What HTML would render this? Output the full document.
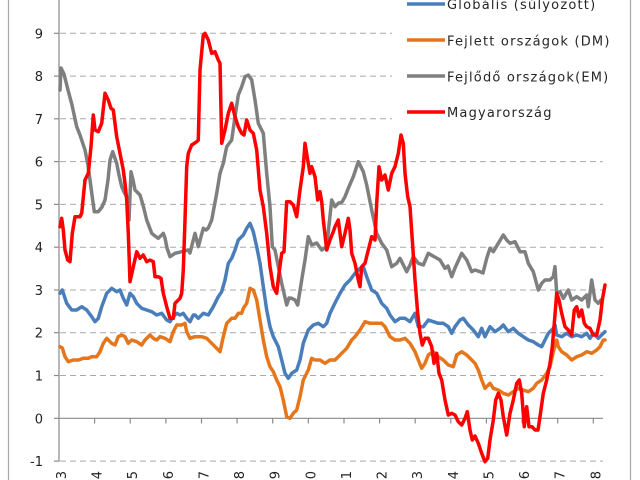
<!DOCTYPE html>
<html>
<head>
<meta charset="utf-8">
<style>
html,body{margin:0;padding:0;background:#fff;}
svg{display:block;}
.yl{font-family:"DejaVu Sans","Liberation Sans",sans-serif;font-size:13px;fill:#222;}
.lg{font-family:"DejaVu Sans","Liberation Sans",sans-serif;font-size:13px;fill:#262626;letter-spacing:1.2px;}
</style>
</head>
<body>
<svg width="640" height="480" viewBox="0 0 640 480" xmlns="http://www.w3.org/2000/svg">
<rect x="0" y="0" width="640" height="480" fill="#fff"/>
<!-- outer borders -->
<line x1="8.5" y1="0" x2="8.5" y2="480" stroke="#a8a8a8" stroke-width="1.2"/>
<line x1="630.5" y1="0" x2="630.5" y2="480" stroke="#a8a8a8" stroke-width="1.2"/>
<!-- gridlines -->
<g stroke="#a9a9a9" stroke-width="1" stroke-dasharray="6,4">
<line x1="60" y1="33.3" x2="603" y2="33.3"/>
<line x1="60" y1="76.1" x2="603" y2="76.1"/>
<line x1="60" y1="118.8" x2="603" y2="118.8"/>
<line x1="60" y1="161.6" x2="603" y2="161.6"/>
<line x1="60" y1="204.4" x2="603" y2="204.4"/>
<line x1="60" y1="247.2" x2="603" y2="247.2"/>
<line x1="60" y1="290" x2="603" y2="290"/>
<line x1="60" y1="332.7" x2="603" y2="332.7"/>
<line x1="60" y1="375.5" x2="603" y2="375.5"/>
<line x1="60" y1="461.1" x2="603" y2="461.1"/>
</g>
<!-- legend background -->
<rect x="392" y="0" width="236" height="130" fill="#fff"/>
<!-- axes -->
<line x1="59" y1="0" x2="59" y2="461.5" stroke="#8a8a8a" stroke-width="1.2"/>
<line x1="59" y1="418.3" x2="603" y2="418.3" stroke="#8a8a8a" stroke-width="1.2"/>
<g stroke="#8a8a8a" stroke-width="1.2">
<line x1="54" y1="33.3" x2="59" y2="33.3"/>
<line x1="54" y1="76.1" x2="59" y2="76.1"/>
<line x1="54" y1="118.8" x2="59" y2="118.8"/>
<line x1="54" y1="161.6" x2="59" y2="161.6"/>
<line x1="54" y1="204.4" x2="59" y2="204.4"/>
<line x1="54" y1="247.2" x2="59" y2="247.2"/>
<line x1="54" y1="290" x2="59" y2="290"/>
<line x1="54" y1="332.7" x2="59" y2="332.7"/>
<line x1="54" y1="375.5" x2="59" y2="375.5"/>
<line x1="54" y1="418.3" x2="59" y2="418.3"/>
<line x1="54" y1="461.1" x2="59" y2="461.1"/>
<line x1="94.6" y1="418.3" x2="94.6" y2="423.5"/>
<line x1="130.2" y1="418.3" x2="130.2" y2="423.5"/>
<line x1="165.9" y1="418.3" x2="165.9" y2="423.5"/>
<line x1="201.5" y1="418.3" x2="201.5" y2="423.5"/>
<line x1="237.1" y1="418.3" x2="237.1" y2="423.5"/>
<line x1="272.7" y1="418.3" x2="272.7" y2="423.5"/>
<line x1="308.3" y1="418.3" x2="308.3" y2="423.5"/>
<line x1="344" y1="418.3" x2="344" y2="423.5"/>
<line x1="379.6" y1="418.3" x2="379.6" y2="423.5"/>
<line x1="415.2" y1="418.3" x2="415.2" y2="423.5"/>
<line x1="450.8" y1="418.3" x2="450.8" y2="423.5"/>
<line x1="486.4" y1="418.3" x2="486.4" y2="423.5"/>
<line x1="522.1" y1="418.3" x2="522.1" y2="423.5"/>
<line x1="557.7" y1="418.3" x2="557.7" y2="423.5"/>
<line x1="593.3" y1="418.3" x2="593.3" y2="423.5"/>
</g>
<!-- y labels -->
<g class="yl" text-anchor="end">
<text x="43" y="38.3">9</text>
<text x="43" y="81.1">8</text>
<text x="43" y="123.8">7</text>
<text x="43" y="166.6">6</text>
<text x="43" y="209.4">5</text>
<text x="43" y="252.2">4</text>
<text x="43" y="295">3</text>
<text x="43" y="337.7">2</text>
<text x="43" y="380.5">1</text>
<text x="43" y="423.3">0</text>
<text x="43" y="466.1">-1</text>
</g>
<!-- x labels (rotated) -->
<g class="yl" text-anchor="end">
<text transform="translate(66,471) rotate(-90)">2003</text>
<text transform="translate(101.6,471) rotate(-90)">2004</text>
<text transform="translate(137.2,471) rotate(-90)">2005</text>
<text transform="translate(172.9,471) rotate(-90)">2006</text>
<text transform="translate(208.5,471) rotate(-90)">2007</text>
<text transform="translate(244.1,471) rotate(-90)">2008</text>
<text transform="translate(279.7,471) rotate(-90)">2009</text>
<text transform="translate(315.3,471) rotate(-90)">2010</text>
<text transform="translate(351,471) rotate(-90)">2011</text>
<text transform="translate(386.6,471) rotate(-90)">2012</text>
<text transform="translate(422.2,471) rotate(-90)">2013</text>
<text transform="translate(457.8,471) rotate(-90)">2014</text>
<text transform="translate(493.4,471) rotate(-90)">2015</text>
<text transform="translate(529.1,471) rotate(-90)">2016</text>
<text transform="translate(564.7,471) rotate(-90)">2017</text>
<text transform="translate(600.3,471) rotate(-90)">2018</text>
</g>
<!-- series -->
<g fill="none" stroke-width="3.5" stroke-linejoin="round" stroke-linecap="round">
<polyline stroke="#4a7ebb" points="60,293.3 62.3,290 66.7,303.3 71.7,310 76.7,310 81.7,306.7 86.7,310 91.7,316.7 95,321.7 98.3,318.3 101.7,306.7 106.7,293.3 111.7,288.3 116.7,291.7 120,290 123.3,298.3 126.7,305 130,293.3 133.3,296.7 136.7,303.3 141.7,308.3 146.7,310 151.7,311.7 156.7,315 161.7,313.3 166.7,320 170,321.7 173.3,316.7 176.7,313.3 180,315 183.3,313.3 186.7,318.3 190,321.7 193.3,315 195,315 198.3,318.3 203.3,313.3 208.3,315 213.3,306.7 218.3,296.7 221.7,291.7 225,280 228.3,263.3 231.7,258.3 235,250 238.3,240 243.3,235 246.7,228.3 250,223.3 253.3,231.7 256.7,246.7 260,263.3 263.3,286.7 266.7,310 270,326.7 273.3,336.7 278.3,346.7 281.7,360 285,373.3 288.3,378.3 291.7,373.3 296.7,370 300,360 303.3,343.3 308.3,330 313.3,325 318.3,323.3 323.3,326.7 326.7,323.3 330,313.3 335,303 340,293.3 345,285 350,280 355,273.3 360,268.3 363.3,266.7 366.7,276.7 371.7,290 376.7,293.3 381.7,303.3 386.7,308.3 390,315 395,321.7 400,318.3 405,318.3 410,321.7 415,313.3 418.3,326.7 423.3,326.7 428.3,320 433.3,321.7 438.3,323.3 443.3,323.3 448.3,326.7 451.7,333.3 455,326.7 460,320 463.3,318.3 468.3,325 473.3,330 478.3,336.7 481.7,328.3 485,336.7 490,326.7 495,331.7 500,328.3 503.3,325 508.3,331.7 513.3,328.3 518.3,333.3 523.3,336.7 528.3,340 533.3,341.7 538.3,345 541.7,346.7 545,340 548.3,333.3 553.3,328.3 555,325 556.7,335 561.7,336.7 566.7,333.3 571.7,336.7 576.7,335 581.7,336.7 586.7,333.3 590,338.3 593.3,333.3 598.3,338.3 603.3,333.3 605,331.7"/>
<polyline stroke="#e5761c" points="60,346.7 62.3,348 65,356.7 68.3,361.7 73.3,360 78.3,360 83.3,358.3 88.3,358.3 91.7,356.7 96.7,356.7 100,351.7 103.3,343.3 106.7,338.3 111.7,343.3 115,345 118.3,336.7 121.7,335 125,336.7 128.3,343.3 131.7,340 136.7,341.7 141.7,345 145,340 150,335 153.3,338.3 156.7,340 160,336.7 165,338.3 170,341.7 173.3,331.7 176.7,325 181.7,325 185,323.3 186.7,331.7 190,338.3 195,336.7 201.7,336.7 206.7,338.3 211.7,343.3 216.7,348.3 220,351.7 223.3,336.7 226.7,323.3 231.7,318.3 235,318.3 238.3,313.3 241.7,313.3 243.3,308.3 246.7,303.3 250,288.3 253.3,290 256.7,300 260,320 263.3,340 266.7,356.7 270,366.7 273.3,371.7 276.7,380 280,386.7 283.3,400 286.7,416.7 290,418.3 293.3,413.3 296.7,410 300,396.7 303.3,380 308.3,370 311.7,358.3 315,360 320,360 325,363.3 330,360 335,360 341.7,353.3 346.7,348.3 351.7,340 355,336.7 360,330 365,321.7 370,323.3 375,323.3 381.7,323.3 385,326.7 390,336.7 395,340 400,340 405,338.3 410,343.3 415,351.7 418.3,360 421.7,368.3 425,363.3 428.3,355 433.3,351.7 438.3,356.7 443.3,360 448.3,365 453.3,366.7 456.7,355 461.7,351.7 466.7,355 471.7,360 475,363.3 478.3,370 481.7,380 485,388.3 490,383.3 493.3,388.3 498.3,390 503.3,393.3 508.3,395 513.3,391.7 518.3,388.3 523.3,390 528.3,391.7 533.3,388.3 536.7,383.3 541.7,380 546.7,373.3 550,366.7 553.3,351.7 556.7,340 558.3,346.7 561.7,351.7 566.7,355 571.7,360 576.7,356.7 581.7,355 586.7,351.7 591.7,353.3 596.7,350 600,346.7 603.3,340 605,340"/>
<polyline stroke="#7f7f7f" points="60,90 61,68 64,74 68,90 72,105 76.7,126.7 80,135 85,150 88,165 90,180 92,195 94.3,211.7 98.3,211.7 102,207 105,200 108,180 110,160 112.7,151.7 116.7,163.3 119,175 121.7,186.7 124,192 126.7,196.7 129,220 131,171.7 133,180 135,190 140,195 143,205 146.7,220 151.7,233.3 155,236 158.3,238.3 163.3,233.3 165,238 167,248 170,256.7 175,253.3 181.7,251.7 188.3,250 190,253 192,245 195,233.3 198.3,246.7 203.3,228.3 206,230 208.3,228 211.7,220 216.7,193.3 220,173.3 223.3,163.3 226.7,146.7 231.7,140 235,116.7 238.3,95 241.7,86.7 245,76.7 248.3,75 251.7,80 255,100 258.3,123.3 263.3,133.3 266.7,173.3 270,206.7 272.3,246.7 275,250 277,260 281.7,283.3 286.7,305 289,298 291.7,298.3 295,300 297.7,305 301.7,280 305,260 308.3,236.7 311.7,245 316.7,243 321.7,250 326.7,246.7 331.7,200 335,206.7 338.3,203.3 342,202 345,196.7 348.3,188.3 353.3,176.7 358.3,161.7 363.3,171.7 366.7,185 371.7,210 376.7,233.3 381.7,243.3 386.7,250 391.7,266.7 396.7,263.3 400,258.3 406.7,271.7 410,265 413.3,256.7 418.3,263.3 423.3,265 428.3,253.3 433,256 440,260 445,268.3 448,266 451.7,276.7 455,268 461.7,253.3 466.7,260 471.7,271.7 475,270 480,271.7 483,273 486.7,258.3 490,248.3 493.3,251.7 498.3,243.3 503.3,235 506.7,240 510,243.3 515,241.7 520,251.7 525,251.7 528.3,263.3 533.3,271.7 538.3,290 541.7,283.3 545,280 550,280 553.3,276.7 555,266.7 556.7,293.3 560,291.7 563.3,298.3 568.3,290 571.7,300 576.7,296.7 581.7,300 586.7,295 588.3,306.7 591.7,280 593.3,290 595,300 598.3,303.3 601,300"/>
<polyline stroke="#ff0000" points="60,226.7 61.7,218.3 63.3,230 65,250 67.7,260 70,261.7 72.3,233.3 75,216.7 80,216.7 81.7,213.3 85,180 88.3,173.3 91,146.7 93.3,115 95,130 98.3,131.7 101.7,123.3 105,93.3 108.3,100 111,108.3 113.3,110 116.7,136.7 120,153.3 123.3,170 125,183.3 126.7,200 128.3,233.3 130,281.7 133.3,266.7 136.7,251.7 140,258.3 143.3,255 146.7,261.7 150,260 153.3,261.7 155,276.7 158.3,276.7 161,278.3 163.3,293.3 166.7,306.7 170,318.3 173.3,318.3 175,303.3 180,298.3 181.7,293.3 183.3,270 185,220 186.7,166.7 188.3,153.3 191.7,145 196.7,141.7 198.3,140 200,70 203.3,35 205,33.3 208.3,40 211.7,53.3 215,51.7 218.3,60 220,63.3 221.7,143.3 225,130 228.3,113.3 231.7,103.3 235,116.7 238.3,126.7 241.7,133.3 244,135 246.7,120 250,130 253.3,133.3 256.7,150 260,190 263.3,206.7 266.7,233.3 270,266.7 273.3,286.7 276.7,293.3 279,273.3 281.7,253.3 284,251.7 286.7,201.7 290,201.7 293.3,205 296.7,216.7 300,190 303.3,166.7 305,143.3 307.7,160 310,173.3 311.7,166.7 315,176.7 317.7,200 320,191.7 321.7,201.7 323.3,220 326.7,250 330,240 333.3,231.7 335,226.7 338.3,220 341.7,246.7 345,233.3 348.3,218.3 350,230 351.7,253.3 355,263.3 358.3,280 360,286.7 361.7,266.7 365,263.3 368.3,250 371.7,236.7 375,240 376.7,203.3 379,166.7 381.7,180 385,175 388.3,190 391.7,173.3 395,166.7 398.3,153.3 401,135 403.3,143.3 405,173.3 407.7,196.7 410,206.7 412.3,240 415,280 417.7,313.3 420,333.3 422.3,345 425,338.3 428.3,338.3 431.7,346.7 434,363.3 436.7,353.3 439,373.3 441.7,380 445,400 448.3,415 451.7,413.3 455,415 458.3,421.7 461.7,425 465,418.3 467.3,411.7 470,430 472.3,440 475,436 478.3,443.3 481.7,453.3 485,461.7 487.7,458.3 490,440 493.3,420 495.7,400 498.3,393.3 501,400 503.3,416.7 506.7,435 510,413.3 513.3,400 516.7,383.3 519.3,380 521.7,393.3 524.3,426.7 526.7,406.7 529,426.7 532,426.7 535,430 538,430 540,416.7 543.3,393.3 546.7,380 550,363.3 552.3,346.7 554.3,323.3 556.7,293.3 559,300 561.7,313.3 565,326.7 568.3,330 571.7,335 574.3,310 576.7,306.7 579,316.7 581.7,310 584.3,323.3 586.7,326.7 590,328.3 593.3,335 596.7,335 600,320 602.3,300 605,285"/>
</g>
<!-- legend -->
<g stroke-width="3.5">
<line x1="407" y1="4" x2="445" y2="4" stroke="#4a7ebb"/>
<line x1="407" y1="40" x2="445" y2="40" stroke="#e5761c"/>
<line x1="407" y1="76" x2="445" y2="76" stroke="#7f7f7f"/>
<line x1="407" y1="112" x2="445" y2="112" stroke="#ff0000"/>
</g>
<g class="lg">
<text x="447" y="9">Globális (súlyozott)</text>
<text x="447" y="45.5">Fejlett országok (DM)</text>
<text x="447" y="81.5">Fejlődő országok(EM)</text>
<text x="447" y="117">Magyarország</text>
</g>
</svg>
</body>
</html>
